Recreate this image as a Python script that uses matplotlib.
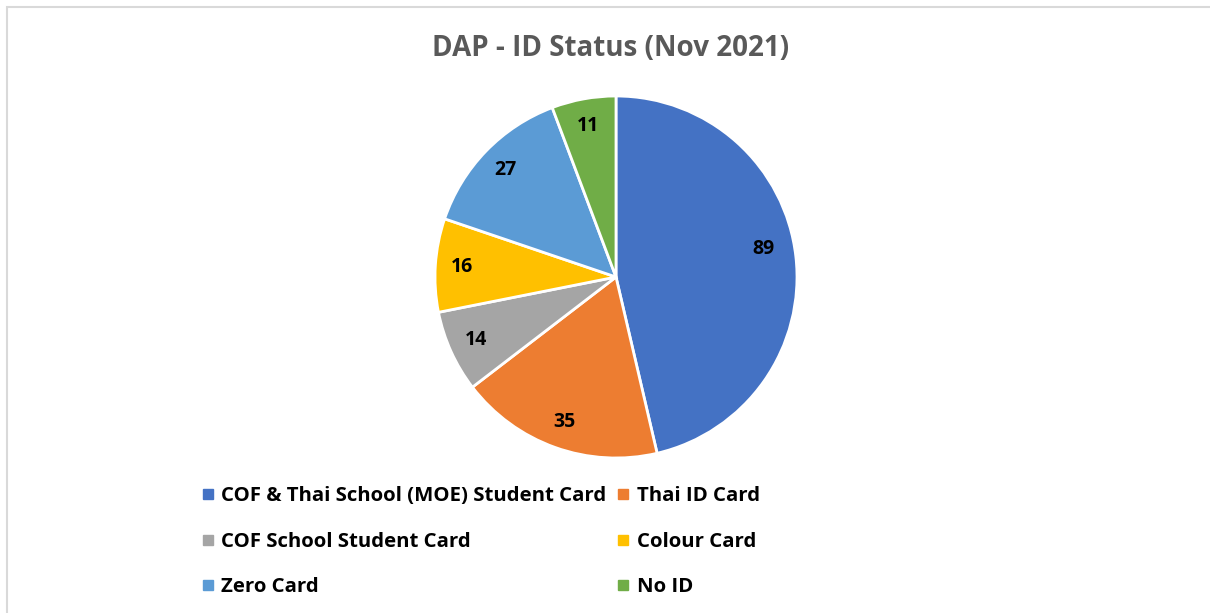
import matplotlib.pyplot as plt
from matplotlib.lines import Line2D
from matplotlib.patches import Rectangle

plt.rcParams['font.family'] = ['Open Sans', 'DejaVu Sans']

labels = ['COF & Thai School (MOE) Student Card', 'Thai ID Card',
          'COF School Student Card', 'Colour Card', 'Zero Card', 'No ID']
values = [89, 35, 14, 16, 27, 11]
colors = ['#4472C4', '#ED7D31', '#A5A5A5', '#FFC000', '#5B9BD5', '#70AD47']

W, H = 1210, 613
fig = plt.figure(figsize=(W / 100, H / 100), dpi=100)

# light grey chart border
fig.add_artist(Rectangle((7 / W, -0.1), 1.2, 1 - 7 / H + 0.1, transform=fig.transFigure,
                         fill=False, edgecolor='#D9D9D9', linewidth=1.5))

cx, cy, r = 616, 277, 181
ax = fig.add_axes([(cx - r) / W, (H - cy - r) / H, 2 * r / W, 2 * r / H])
wedges, texts = ax.pie(values, colors=colors, startangle=90, counterclock=False,
                       wedgeprops=dict(edgecolor='white', linewidth=2),
                       labels=[str(v) for v in values], labeldistance=0.85)
for t in texts:
    t.set_ha('center')
    t.set_va('center')
    t.set_fontsize(14)
    t.set_fontweight('bold')
    t.set_color('black')
# Excel nudges the big slice label slightly up
x89, y89 = texts[0].get_position()
texts[0].set_position((x89 - 0.03, y89 + 0.06))
ax.set_xlim(-1, 1)
ax.set_ylim(-1, 1)
ax.set_aspect('equal')

fig.text(611 / W, 1 - 49 / H, 'DAP - ID Status (Nov 2021)', ha='center', va='center',
         fontsize=20, fontweight='bold', color='#595959')

# legend, row-major order in two columns
order = [0, 2, 4, 1, 3, 5]
handles = [Line2D([], [], marker='s', linestyle='', markersize=7, color=colors[i]) for i in order]
fig.legend(handles, [labels[i] for i in order], ncol=2, frameon=False,
           loc='upper left', bbox_to_anchor=(182 / W, 1 - 468 / H),
           prop=dict(size=14.7, weight='bold'), handlelength=0.7, handletextpad=0.3,
           columnspacing=0.5, labelspacing=1.25, labelcolor='black')

fig.savefig('out.png', dpi=100)
